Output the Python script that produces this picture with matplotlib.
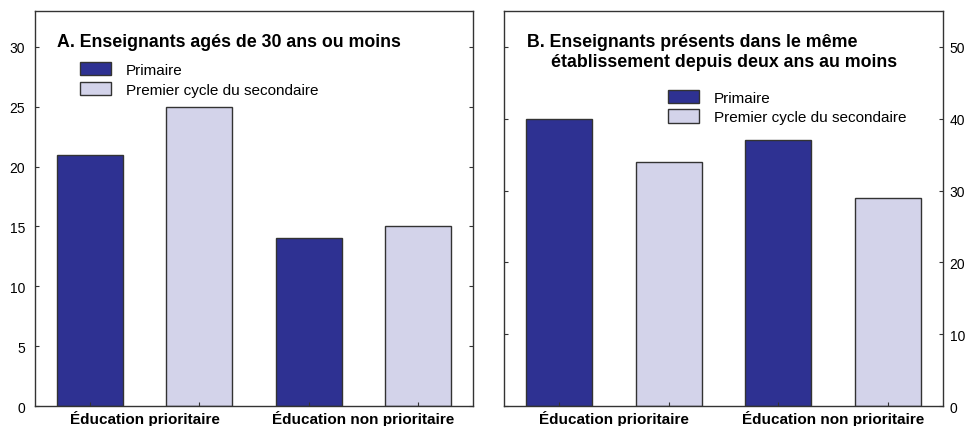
import matplotlib
matplotlib.use("Agg")
import matplotlib.pyplot as plt
from matplotlib.patches import Patch
import numpy as np

plt.rcParams['font.family'] = ['Liberation Sans', 'DejaVu Sans']

# données
groupes = ['Éducation prioritaire', 'Éducation non prioritaire']
series = ['Primaire', 'Premier cycle du secondaire']
jeunes_primaire = [21, 14]
jeunes_secondaire = [25, 15]
stables_primaire = [40, 37]
stables_secondaire = [34, 29]
ticks_a = [0, 5, 10, 15, 20, 25, 30]
ticks_b = [0, 10, 20, 30, 40, 50]

fonce = '#2e3192'
clair = '#d3d3ea'
bord = '#333333'

fig = plt.figure(figsize=(9.67, 4.27), dpi=100)
axA = fig.add_axes([0.0362, 0.0468, 0.4529, 0.925])
axB = fig.add_axes([0.5215, 0.0468, 0.4534, 0.925])


def panneau(ax, prim, sec, yticks, ymax, droite):
    x = np.arange(len(groupes)) * 2
    ax.bar(x, prim, 0.6, color=fonce, edgecolor=bord, linewidth=1, label=series[0])
    ax.bar(x + 1, sec, 0.6, color=clair, edgecolor=bord, linewidth=1, label=series[1])
    ax.set_xlim(-0.5, 3.5)
    ax.set_ylim(0, ymax)
    ax.set_yticks(yticks)
    ax.set_xticks(np.arange(4))
    ax.set_xticklabels([])
    ax.set_xticks(x + 0.5, minor=True)
    ax.set_xticklabels(groupes, minor=True, fontweight='bold', fontsize=11)
    ax.tick_params(axis='x', which='minor', length=0, pad=3)
    ax.tick_params(axis='x', which='major', direction='in', length=3, color=bord)
    ax.tick_params(axis='y', direction='in', length=3, left=True, right=True,
                   labelleft=not droite, labelright=droite, labelsize=10,
                   color=bord, pad=5 if droite else 7)
    for s in ax.spines.values():
        s.set_color(bord)
        s.set_linewidth(1)


panneau(axA, jeunes_primaire, jeunes_secondaire, ticks_a, 33, False)
panneau(axB, stables_primaire, stables_secondaire, ticks_b, 55, True)

poignees = [Patch(facecolor=fonce, edgecolor=bord, linewidth=1),
            Patch(facecolor=clair, edgecolor=bord, linewidth=1)]
leg_opts = dict(loc='upper left', frameon=False, fontsize=11, borderpad=0,
                borderaxespad=0, handlelength=2.03, handleheight=0.98,
                handletextpad=0.96, labelspacing=0.3)

axA.text(0.050, 0.922, 'A. Enseignants agés de 30 ans ou moins',
         transform=axA.transAxes, fontsize=12.8, fontweight='bold', va='center')
axA.legend(poignees, series, bbox_to_anchor=(0.103, 0.871), **leg_opts)

axB.text(0.052, 0.922, 'B. Enseignants présents dans le même',
         transform=axB.transAxes, fontsize=12.8, fontweight='bold', va='center')
axB.text(0.1065, 0.871, 'établissement depuis deux ans au moins',
         transform=axB.transAxes, fontsize=12.8, fontweight='bold', va='center')
axB.legend(poignees, series, bbox_to_anchor=(0.373, 0.801), **leg_opts)

fig.savefig('out.png', dpi=100)
